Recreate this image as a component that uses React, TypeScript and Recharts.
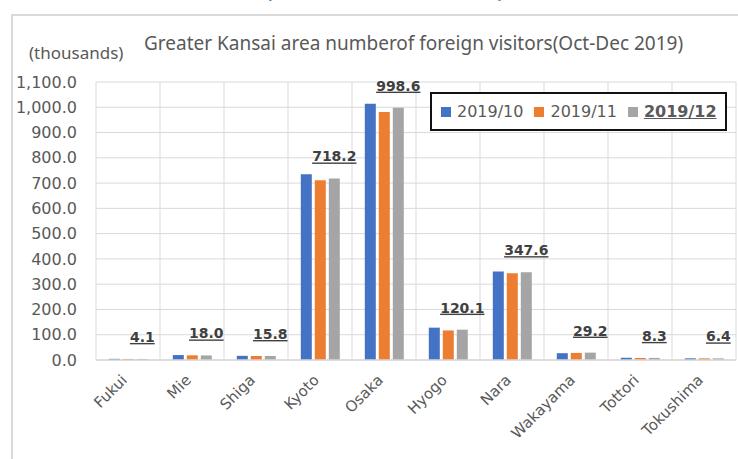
import React from 'react';
import { BarChart, Bar, XAxis, YAxis, CartesianGrid, Legend, LabelList } from 'recharts';

// Prefectures in the Greater Kansai area
const prefectures = ['Fukui', 'Mie', 'Shiga', 'Kyoto', 'Osaka', 'Hyogo', 'Nara', 'Wakayama', 'Tottori', 'Tokushima'];

// Foreign visitors per month (thousands)
const oct2019 = [4.5, 19.5, 16.5, 735.0, 1014.0, 128.0, 350.0, 27.0, 8.8, 6.6];
const nov2019 = [4.2, 18.5, 16.0, 711.0, 981.0, 117.0, 343.0, 28.0, 8.0, 6.5];
const dec2019 = [4.1, 18.0, 15.8, 718.2, 998.6, 120.1, 347.6, 29.2, 8.3, 6.4];

const yTicks = [0, 100, 200, 300, 400, 500, 600, 700, 800, 900, 1000, 1100];

const seriesNames = ['2019/10', '2019/11', '2019/12'];
const seriesColors = ['#4472C4', '#ED7D31', '#A5A5A5'];

const data = prefectures.map((name, i) => ({
  name,
  oct: oct2019[i],
  nov: nov2019[i],
  dec: dec2019[i],
}));

const formatTick = (v: number) =>
  v.toLocaleString('en-US', { minimumFractionDigits: 1, maximumFractionDigits: 1 });

const AXIS_FONT = '"DejaVu Sans", Verdana, sans-serif';
const TITLE_FONT = '"Noto Sans", sans-serif';

const XTick = ({ x, y, payload }: any) => {
  const tx = x;
  const ty = y + 21;
  return (
    <text
      x={tx}
      y={ty}
      textAnchor="end"
      transform={`rotate(-45, ${tx}, ${ty})`}
      fill="#595959"
      fontSize={15}
      fontFamily={AXIS_FONT}
    >
      {payload.value}
    </text>
  );
};

const DecLabel = ({ x, y, width, value }: any) => (
  <text
    x={x + width / 2}
    y={y - 17}
    textAnchor="middle"
    fill="#404040"
    fontSize={14}
    fontWeight="bold"
    fontFamily={AXIS_FONT}
    textDecoration="underline"
    style={{ textDecoration: 'underline' }}
  >
    {value.toFixed(1)}
  </text>
);

const LegendBox = () => (
  <div
    style={{
      boxSizing: 'border-box',
      width: '100%',
      height: '100%',
      border: '2px solid #111',
      display: 'flex',
      alignItems: 'center',
      paddingLeft: 9,
      fontFamily: AXIS_FONT,
      fontSize: 16,
      color: '#595959',
      background: '#fff',
    }}
  >
    {seriesNames.map((n, i) => (
      <div key={n} style={{ display: 'flex', alignItems: 'center', marginRight: 11 }}>
        <span style={{ display: 'inline-block', width: 10, height: 10, background: seriesColors[i], marginRight: 6 }} />
        <span
          style={
            i === 2
              ? { fontWeight: 'bold', textDecoration: 'underline', color: '#595959' }
              : undefined
          }
        >
          {n}
        </span>
      </div>
    ))}
  </div>
);

const App: React.FC = () => {
  return (
    <div style={{ position: 'absolute', left: 0, top: 0, width: 738, height: 459, overflow: 'hidden', background: '#fff' }}>
      {/* heading above the chart frame, cut off by the top edge */}
      <div
        style={{
          position: 'absolute',
          left: 266,
          top: -18,
          lineHeight: '18px',
          fontSize: 18,
          fontWeight: 'bold',
          color: '#0070C0',
          fontFamily: TITLE_FONT,
          whiteSpace: 'nowrap',
        }}
      >
        (October - December 2019)
      </div>

      {/* chart frame */}
      <div
        style={{
          position: 'absolute',
          left: 11,
          top: 14,
          width: 760,
          height: 480,
          border: '2px solid #D9D9D9',
        }}
      />

      <div
        style={{
          position: 'absolute',
          left: 29,
          top: 42,
          fontSize: 17,
          lineHeight: '22px',
          color: '#595959',
          fontFamily: TITLE_FONT,
          whiteSpace: 'nowrap',
        }}
      >
        (thousands)
      </div>
      <div
        style={{
          position: 'absolute',
          left: 144,
          top: 31,
          fontSize: 19,
          lineHeight: '24px',
          color: '#595959',
          fontFamily: TITLE_FONT,
          whiteSpace: 'nowrap',
        }}
      >
        Greater Kansai area numberof foreign visitors(Oct-Dec 2019)
      </div>

      <div style={{ position: 'absolute', left: 0, top: 0 }}>
        <BarChart
          width={738}
          height={459}
          data={data}
          margin={{ top: 82, right: 2, left: 16, bottom: 0 }}
          barGap={3}
          barCategoryGap="20%"
        >
          <CartesianGrid
            stroke="#D9D9D9"
            verticalCoordinatesGenerator={({ offset }: any) =>
              prefectures.map((_, i) => offset.left + (i * offset.width) / prefectures.length).concat(offset.left + offset.width)
            }
          />
          <XAxis
            dataKey="name"
            interval={0}
            height={60}
            tickLine={false}
            tickSize={0}
            tickMargin={0}
            axisLine={{ stroke: '#D9D9D9', strokeWidth: 1.5 }}
            tick={<XTick />}
          />
          <YAxis
            width={80}
            domain={[0, 1100]}
            ticks={yTicks}
            interval={0}
            tickFormatter={formatTick}
            axisLine={false}
            tickLine={false}
            tickSize={0}
            tickMargin={19}
            tick={{ fill: '#595959', fontSize: 16, fontFamily: AXIS_FONT }}
          />
          <Legend
            content={<LegendBox />}
            wrapperStyle={{ position: 'absolute', left: 430, top: 92, width: 297, height: 39, bottom: 'auto' }}
          />
          <Bar dataKey="oct" name={seriesNames[0]} fill={seriesColors[0]} isAnimationActive={false} />
          <Bar dataKey="nov" name={seriesNames[1]} fill={seriesColors[1]} isAnimationActive={false} />
          <Bar dataKey="dec" name={seriesNames[2]} fill={seriesColors[2]} isAnimationActive={false}>
            <LabelList dataKey="dec" content={<DecLabel />} />
          </Bar>
        </BarChart>
      </div>
    </div>
  );
};

export default App;
